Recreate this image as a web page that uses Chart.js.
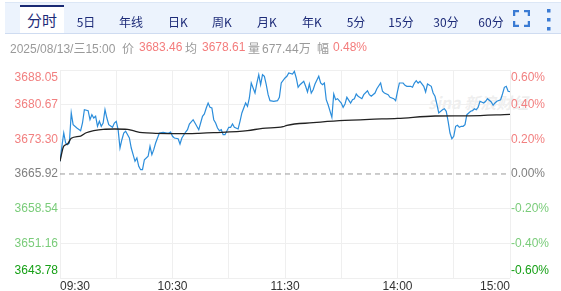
<!DOCTYPE html>
<html>
<head>
<meta charset="utf-8">
<script src="https://cdn.jsdelivr.net/npm/chart.js@4.4.0/dist/chart.umd.min.js"></script>
<style>
  html, body { margin: 0; padding: 0; background: #fff; }
  body { width: 561px; height: 291px; position: relative; overflow: hidden;
         font-family: Arial, "Liberation Sans", "Noto Sans CJK SC", sans-serif; }
  #chart { position: absolute; left: 0; top: 0; z-index: 1; }
  #tabs { position: absolute; left: 5px; top: 2px; width: 556px; height: 30px;
          background: #ecf3fd; border-top: 1px solid #dce7f6; border-bottom: 1px solid #cfdcf1; z-index: 2; }
  .tab { position: absolute; top: 4px; height: 30px; line-height: 30px; font-size: 12px; color: #1d2b78;
         transform: translateX(-50%); white-space: nowrap; font-family: "Noto Sans CJK SC", sans-serif; }
  #active { position: absolute; left: 20px; top: 5px; width: 44px; height: 26px; background: #fff;
            border-top: 2px solid #1a2a74; z-index: 3; text-align: center; line-height: 26px;
            font-size: 15px; color: #1d2b78; font-family: "Noto Sans CJK SC", sans-serif; }
  .info { position: absolute; top: 40px; font-size: 12px; line-height: 15px; white-space: nowrap; color: #9a9a9a; z-index: 2; }
  .red { color: #f47c7c; }
  .cjk { font-family: "Noto Sans CJK SC", sans-serif; }
  #mark { position: absolute; left: 428px; top: 90px; font-size: 16px; font-weight: bold; font-style: italic;
          color: rgba(190,190,190,0.25); z-index: 0; font-family: "Noto Sans CJK SC", sans-serif; }
</style>
</head>
<body>
<div id="tabs">
  <div class="tab" style="left:81px">5日</div>
  <div class="tab" style="left:126px">年线</div>
  <div class="tab" style="left:173px">日K</div>
  <div class="tab" style="left:217px">周K</div>
  <div class="tab" style="left:262px">月K</div>
  <div class="tab" style="left:307px">年K</div>
  <div class="tab" style="left:351px">5分</div>
  <div class="tab" style="left:396px">15分</div>
  <div class="tab" style="left:441px">30分</div>
  <div class="tab" style="left:486px">60分</div>
  <svg style="position:absolute;left:508px;top:7px" width="17" height="17" viewBox="0 0 17 17">
    <path d="M1 6V1H6 M11 1H16V6 M16 11V16H11 M6 16H1V11" fill="none" stroke="#3b7bd4" stroke-width="2.5"/>
  </svg>
  <svg style="position:absolute;left:541px;top:5px" width="5" height="23" viewBox="0 0 5 23">
    <rect x="1" y="1" width="3.5" height="3.5" fill="#3b7bd4"/>
    <rect x="1" y="10" width="3.5" height="3.5" fill="#3b7bd4"/>
    <rect x="1" y="19" width="3.5" height="3.5" fill="#3b7bd4"/>
  </svg>
</div>
<div id="active">分时</div>

<span class="info" style="left:10px">2025/08/13/<span class="cjk">三</span>15:00</span>
<span class="info cjk" style="left:122px">价</span>
<span class="info red" style="left:139px">3683.46</span>
<span class="info cjk" style="left:185px">均</span>
<span class="info red" style="left:202px">3678.61</span>
<span class="info cjk" style="left:248px">量</span>
<span class="info" style="left:262px">677.44<span class="cjk">万</span></span>
<span class="info cjk" style="left:317px">幅</span>
<span class="info red" style="left:333px">0.48%</span>

<div id="mark">sina 新浪财经</div>
<canvas id="chart" width="561" height="291"></canvas>

<script>
const preClose = 3665.92;

const yTickLabels = ["3643.78", "3651.16", "3658.54", "3665.92", "3673.30", "3680.67", "3688.05"];
const pctTickLabels = ["-0.60%", "-0.40%", "-0.20%", "0.00%", "0.20%", "0.40%", "0.60%"];
const xTickLabels = ["09:30", "", "10:30", "", "11:30", "", "14:00", "", "15:00"];

// minutes since 09:30, 11:30 and 13:00 share index 120
const priceMinutes = [
  0, 1, 2, 3, 4, 5, 6, 7, 9, 11, 12, 13, 15, 16, 17, 18, 19, 20, 21, 22, 23, 24, 25, 26, 28, 29, 30,
  31, 32, 33, 34, 35, 37, 38, 39, 40, 41, 42, 43, 44, 45, 47, 48, 49, 50, 51, 53, 55, 57, 58, 59, 60,
  61, 63, 64, 65, 67, 68, 69, 71, 72, 74, 75, 76, 77, 78, 79, 80, 81, 82, 83, 84, 85, 86, 87, 88, 90,
  91, 92, 93, 95, 96, 97, 99, 100, 101, 102, 103, 104, 105, 106, 107, 108, 109, 110, 111, 112, 114, 116, 117, 118, 120,
  121, 122, 124, 125, 126, 127, 128, 130, 131, 132, 133, 134, 135, 136, 138, 139, 140, 141, 142, 143, 145, 146, 147, 148, 150,
  151, 152, 153, 155, 156, 157, 158, 159, 161, 162, 164, 165, 166, 168, 169, 171, 172, 173, 175, 176, 178, 179, 180,
  181, 183, 184, 185, 187, 188, 189, 190, 191, 192, 194, 195, 196, 198, 199, 200, 201, 202, 204, 205, 206, 207, 208, 209, 210,
  211, 212, 213, 214, 215, 216, 217, 219, 220, 221, 222, 223, 224, 226, 227, 228, 230, 231, 232, 233, 235, 236, 237, 238, 239, 240
];
const prices = [
  3668.62, 3671.81, 3674.64, 3672.51, 3672.15, 3672.51, 3678.90, 3676.41, 3675.71, 3675.13, 3676.77, 3679.60, 3679.39, 3677.47, 3678.54, 3677.83, 3678.20, 3676.07, 3677.13, 3676.07, 3676.77, 3679.60, 3677.83, 3676.41, 3675.85, 3676.77, 3677.13,
  3675.34, 3671.45, 3673.21, 3674.64, 3675.00, 3673.58, 3671.45, 3670.02, 3668.62, 3669.32, 3667.55, 3666.83, 3666.83, 3668.96, 3669.68, 3671.81, 3670.02, 3671.09, 3672.51, 3674.64, 3674.79, 3674.64, 3674.64, 3674.85, 3673.94,
  3673.58, 3673.43, 3672.30, 3673.58, 3674.85, 3675.34, 3676.56, 3677.47, 3676.77, 3675.34, 3676.77, 3678.20, 3678.69, 3679.96, 3681.03, 3680.11, 3679.96, 3677.47, 3676.77, 3675.71, 3675.13, 3675.34, 3674.28, 3674.28, 3675.85,
  3675.85, 3676.56, 3675.85, 3675.49, 3677.13, 3678.90, 3681.03, 3680.32, 3682.09, 3685.28, 3684.22, 3683.15, 3685.28, 3687.05, 3684.92, 3687.05, 3686.71, 3684.92, 3682.79, 3681.52, 3681.39, 3681.52, 3682.24, 3685.28, 3686.35,
  3686.71, 3687.41, 3687.20, 3687.77, 3686.35, 3684.37, 3684.92, 3685.64, 3684.58, 3683.37, 3685.07, 3683.15, 3683.86, 3685.07, 3686.71, 3685.28, 3684.92, 3685.28, 3681.73, 3680.66, 3677.98, 3682.94, 3681.73, 3681.94, 3681.03,
  3680.11, 3680.81, 3682.24, 3681.03, 3681.73, 3681.94, 3682.94, 3682.45, 3681.94, 3682.79, 3683.64, 3682.79, 3682.45, 3683.15, 3684.07, 3685.28, 3683.52, 3683.15, 3682.79, 3682.24, 3681.94, 3681.52, 3683.52,
  3685.28, 3685.28, 3684.79, 3684.58, 3684.58, 3684.37, 3685.28, 3685.77, 3685.28, 3685.64, 3684.58, 3683.37, 3685.07, 3684.58, 3683.15, 3682.45, 3680.81, 3678.90, 3679.60, 3679.81, 3679.26, 3677.13, 3674.64, 3673.43, 3673.94,
  3676.07, 3676.28, 3675.85, 3676.07, 3676.07, 3676.41, 3678.54, 3679.26, 3679.39, 3679.81, 3679.60, 3680.11, 3681.39, 3681.03, 3681.39, 3681.94, 3681.24, 3680.54, 3681.03, 3681.39, 3681.73, 3682.94, 3684.37, 3684.58, 3683.52, 3683.46
];

const avgMinutes = [0, 2, 4, 6, 11, 14, 18, 23, 29, 36, 39, 44, 51, 64, 74, 82, 100, 108, 119, 121, 135, 149, 165, 180, 200, 218, 240];
const avgPrices = [
  3668.62, 3671.87, 3672.30, 3673.51, 3674.00, 3674.70, 3675.13, 3675.43, 3675.49, 3675.43, 3675.13, 3674.70, 3674.58, 3674.50,
  3674.58, 3674.70, 3675.13, 3675.64, 3675.98, 3676.28, 3676.83, 3677.26, 3677.56, 3677.75, 3678.26, 3678.30, 3678.61
];

const yTickValues = yTickLabels.map(Number);
const xTickValues = xTickLabels.map((_, i) => i * 30);
const labelColors = ["#16a016", "#7acc7a", "#7acc7a", "#808080", "#f28080", "#f28080", "#f28080"];
const tickFont = { family: "Arial, 'Liberation Sans', sans-serif", size: 12 };

// top and bottom labels sit inside the plot like the original
function edgeLabel(text, index) {
  if (index === yTickLabels.length - 1) return ["", text];
  if (index === 0) return [text, ""];
  return text;
}

function toPoints(xs, ys) {
  return xs.map((x, i) => ({ x: x, y: ys[i] }));
}

const ctx = document.getElementById("chart").getContext("2d");

const chart = new Chart(ctx, {
  type: "line",
  data: {
    datasets: [
      {
        label: "均价",
        data: toPoints(avgMinutes, avgPrices),
        borderColor: "#222",
        borderWidth: 1.3,
        pointRadius: 0,
        cubicInterpolationMode: "monotone",
        order: 0,
      },
      {
        label: "价格",
        data: toPoints(priceMinutes, prices),
        borderColor: "#2b8ddb",
        borderWidth: 1.2,
        pointRadius: 0,
        tension: 0,
        order: 1,
      },
      {
        label: "昨收",
        data: [{ x: 0, y: preClose }, { x: 240, y: preClose }],
        borderColor: "#9a9a9a",
        borderWidth: 1,
        borderDash: [5, 4],
        pointRadius: 0,
        order: 2,
      },
    ],
  },
  options: {
    responsive: false,
    animation: false,
    devicePixelRatio: 1,
    layout: { padding: { top: 70, left: 0, right: 0, bottom: 0 } },
    scales: {
      x: {
        type: "linear",
        min: 0,
        max: 240,
        afterBuildTicks: (scale) => {
          scale.ticks = xTickValues.map((v) => ({ value: v }));
        },
        afterFit: (scale) => {
          scale.height = 13;
          scale.paddingLeft = 0;
          scale.paddingRight = 0;
        },
        ticks: {
          autoSkip: false,
          maxRotation: 0,
          align: "inner",
          padding: 1,
          color: "#333",
          font: tickFont,
          callback: (value, index) => xTickLabels[index],
        },
        grid: { color: "#efefef", drawTicks: false },
        border: { display: false },
      },
      y: {
        position: "left",
        min: yTickValues[0],
        max: yTickValues[yTickValues.length - 1],
        afterBuildTicks: (scale) => {
          scale.ticks = yTickValues.map((v) => ({ value: v }));
        },
        afterFit: (scale) => {
          scale.width = 60;
          scale.paddingTop = 0;
          scale.paddingBottom = 0;
        },
        ticks: {
          autoSkip: false,
          padding: 2,
          font: tickFont,
          color: (c) => labelColors[c.index],
          callback: (value, index) => edgeLabel(yTickLabels[index], index),
        },
        grid: {
          drawTicks: false,
          color: (c) => (c.index === 3 ? "rgba(0,0,0,0)" : "#efefef"),
        },
        border: { display: false },
      },
      y2: {
        position: "right",
        min: yTickValues[0],
        max: yTickValues[yTickValues.length - 1],
        afterBuildTicks: (scale) => {
          scale.ticks = yTickValues.map((v) => ({ value: v }));
        },
        afterFit: (scale) => {
          scale.width = 51;
          scale.paddingTop = 0;
          scale.paddingBottom = 0;
        },
        ticks: {
          autoSkip: false,
          padding: 1,
          font: tickFont,
          color: (c) => labelColors[c.index],
          callback: (value, index) => edgeLabel(pctTickLabels[index], index),
        },
        grid: { display: false, drawTicks: false },
        border: { display: false },
      },
    },
    plugins: {
      legend: { display: false },
      title: { display: false },
      tooltip: { enabled: false },
    },
  },
});
</script>
</body>
</html>
